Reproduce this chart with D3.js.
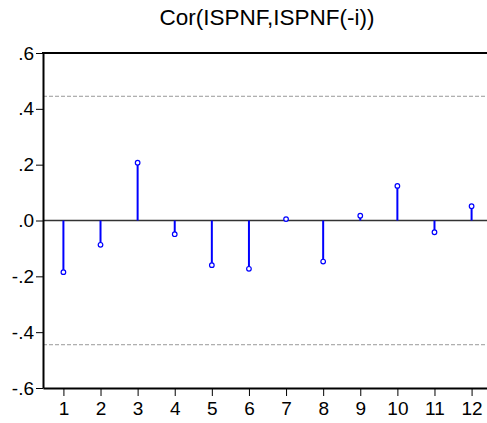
<!DOCTYPE html>
<html>
<head>
<meta charset="utf-8">
<script src="https://cdn.jsdelivr.net/npm/d3@7"></script>
<style>
  html, body { margin: 0; padding: 0; background: #fff; }
  svg { display: block; font-family: "Liberation Sans", Arial, sans-serif; }
</style>
</head>
<body>
<svg id="chart" width="487" height="423"></svg>
<script>
// Autocorrelation of ISPNF at lags 1..12
const lags = [1, 2, 3, 4, 5, 6, 7, 8, 9, 10, 11, 12];
const acf = [-0.185, -0.087, 0.207, -0.049, -0.160, -0.173, 0.005, -0.147, 0.017, 0.124, -0.042, 0.051];
const confBand = [0.445, -0.445];
const yTicks = [-0.6, -0.4, -0.2, 0.0, 0.2, 0.4, 0.6];
const yTickLabels = ["-.6", "-.4", "-.2", ".0", ".2", ".4", ".6"];
const title = "Cor(ISPNF,ISPNF(-i))";

const svg = d3.select("#chart");
const plotL = 43, plotR = 492, plotT = 53, plotB = 388;

const x = d3.scalePoint().domain(lags).range([plotL, plotR]).padding(0.55);
const y = d3.scaleLinear().domain([-0.6, 0.6]).range([plotB, plotT]);

// title
svg.append("text")
  .attr("x", 267).attr("y", 25)
  .attr("text-anchor", "middle")
  .attr("font-size", 22.5)
  .attr("fill", "#000")
  .text(title);

// confidence band lines
svg.selectAll("line.band").data(confBand).enter().append("line")
  .attr("class", "band")
  .attr("x1", plotL).attr("x2", plotR)
  .attr("y1", d => y(d)).attr("y2", d => y(d))
  .attr("stroke", "#999").attr("stroke-width", 1)
  .attr("stroke-dasharray", "4,2");

// zero line
svg.append("line")
  .attr("x1", plotL).attr("x2", plotR)
  .attr("y1", y(0)).attr("y2", y(0))
  .attr("stroke", "#333").attr("stroke-width", 1.5);

// stems
svg.selectAll("line.stem").data(lags).enter().append("line")
  .attr("class", "stem")
  .attr("x1", d => x(d)).attr("x2", d => x(d))
  .attr("y1", y(0)).attr("y2", (d, i) => y(acf[i]))
  .attr("stroke", "#0000ff").attr("stroke-width", 2);

svg.selectAll("circle.pt").data(lags).enter().append("circle")
  .attr("class", "pt")
  .attr("cx", d => x(d)).attr("cy", (d, i) => y(acf[i]))
  .attr("r", 2.3)
  .attr("fill", "#fff").attr("stroke", "#0000ff").attr("stroke-width", 1.2);

// axes
const yAxis = d3.axisLeft(y).tickValues(yTicks)
  .tickFormat((d, i) => yTickLabels[i]).tickSize(7).tickSizeOuter(0).tickPadding(2);
const gy = svg.append("g").attr("transform", `translate(${plotL},0)`).call(yAxis);

const xAxis = d3.axisBottom(x).tickSize(8).tickSizeOuter(0).tickPadding(6);
const gx = svg.append("g").attr("transform", `translate(0,${plotB})`).call(xAxis);

[gx, gy].forEach(g => {
  g.select(".domain").attr("stroke", "#000").attr("stroke-width", 2);
  g.selectAll(".tick line").attr("stroke", "#000").attr("stroke-width", 1);
  g.selectAll(".tick text").attr("font-size", 19).attr("fill", "#000")
    .attr("font-family", "Liberation Sans, Arial, sans-serif");
});

// top frame line
svg.append("line")
  .attr("x1", plotL - 1).attr("x2", plotR)
  .attr("y1", plotT).attr("y2", plotT)
  .attr("stroke", "#000").attr("stroke-width", 2);
</script>
</body>
</html>
